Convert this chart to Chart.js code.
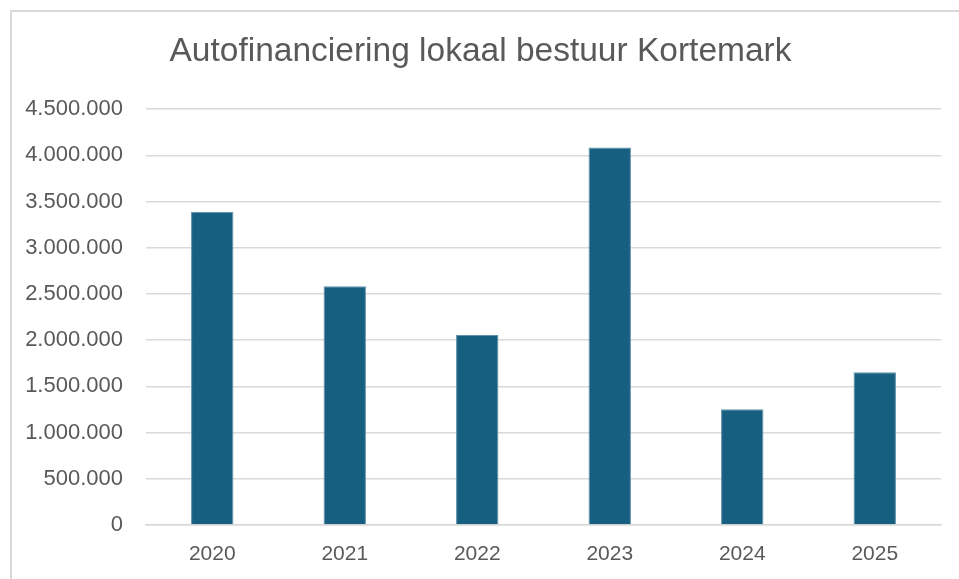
<!DOCTYPE html>
<html>
<head>
<meta charset="utf-8">
<script src="https://cdn.jsdelivr.net/npm/chart.js@4"></script>
<style>
  html, body { margin: 0; padding: 0; background: #fff; }
  #wrap { position: relative; width: 959px; height: 579px; overflow: hidden; }
  #frame { position: absolute; left: 10px; top: 10px; width: 980px; height: 600px; border-left: 2px solid #d9d9d9; border-top: 2px solid #d9d9d9; }
  canvas { position: absolute; left: 0; top: 0; }
</style>
</head>
<body>
<div id="wrap">
  <div id="frame"></div>
  <canvas id="chart" width="959" height="579"></canvas>
</div>
<script>
const years = ['2020', '2021', '2022', '2023', '2024', '2025'];
const autofinanciering = [3390000, 2585000, 2055000, 4085000, 1252000, 1652000];
const yTicks = [0, 500000, 1000000, 1500000, 2000000, 2500000, 3000000, 3500000, 4000000, 4500000];

function fmt(v) {
  return String(v).replace(/\B(?=(\d{3})+(?!\d))/g, '.');
}

(function() {
  const ctx = document.getElementById('chart');
  new Chart(ctx.getContext('2d'), {
    type: 'bar',
    data: {
      labels: years,
      datasets: [{
        label: 'Autofinanciering',
        data: autofinanciering,
        backgroundColor: '#175f80',
        borderColor: '#5f93aa',
        borderWidth: 1,
        categoryPercentage: 1,
        barPercentage: 0.32
      }]
    },
    options: {
      responsive: false, animation: false,
      layout: { padding: { left: 20, right: 18, top: 0, bottom: 0 } },
      plugins: {
        legend: { display: false },
        tooltip: { enabled: false },
        title: {
          display: true,
          text: 'Autofinanciering lokaal bestuur Kortemark',
          color: '#595959',
          font: { family: "'Liberation Sans Narrow', 'Liberation Sans', sans-serif", size: 33.5, weight: 'normal' },
          padding: { top: 32, bottom: 37 }
        }
      },
      scales: {
        y: {
          min: 0, max: 4500000,
          afterBuildTicks: axis => { axis.ticks = yTicks.map(v => ({ value: v })); },
          afterFit: axis => { axis.width = 126; },
          border: { display: false },
          grid: { color: '#d9d9d9', lineWidth: 1.5, drawTicks: false },
          ticks: {
            padding: 23,
            color: '#595959',
            font: { family: "'Liberation Sans', Arial, sans-serif", size: 22 },
            callback: v => fmt(v)
          }
        },
        x: {
          afterFit: axis => { axis.height = 54; },
          border: { display: true, color: '#d9d9d9', width: 1.5 },
          grid: { display: false, drawTicks: false },
          ticks: {
            padding: 17,
            color: '#595959',
            font: { family: "'Liberation Sans Narrow', 'Liberation Sans', sans-serif", size: 21 }
          }
        }
      }
    }
  });
})();
</script>
</body>
</html>
